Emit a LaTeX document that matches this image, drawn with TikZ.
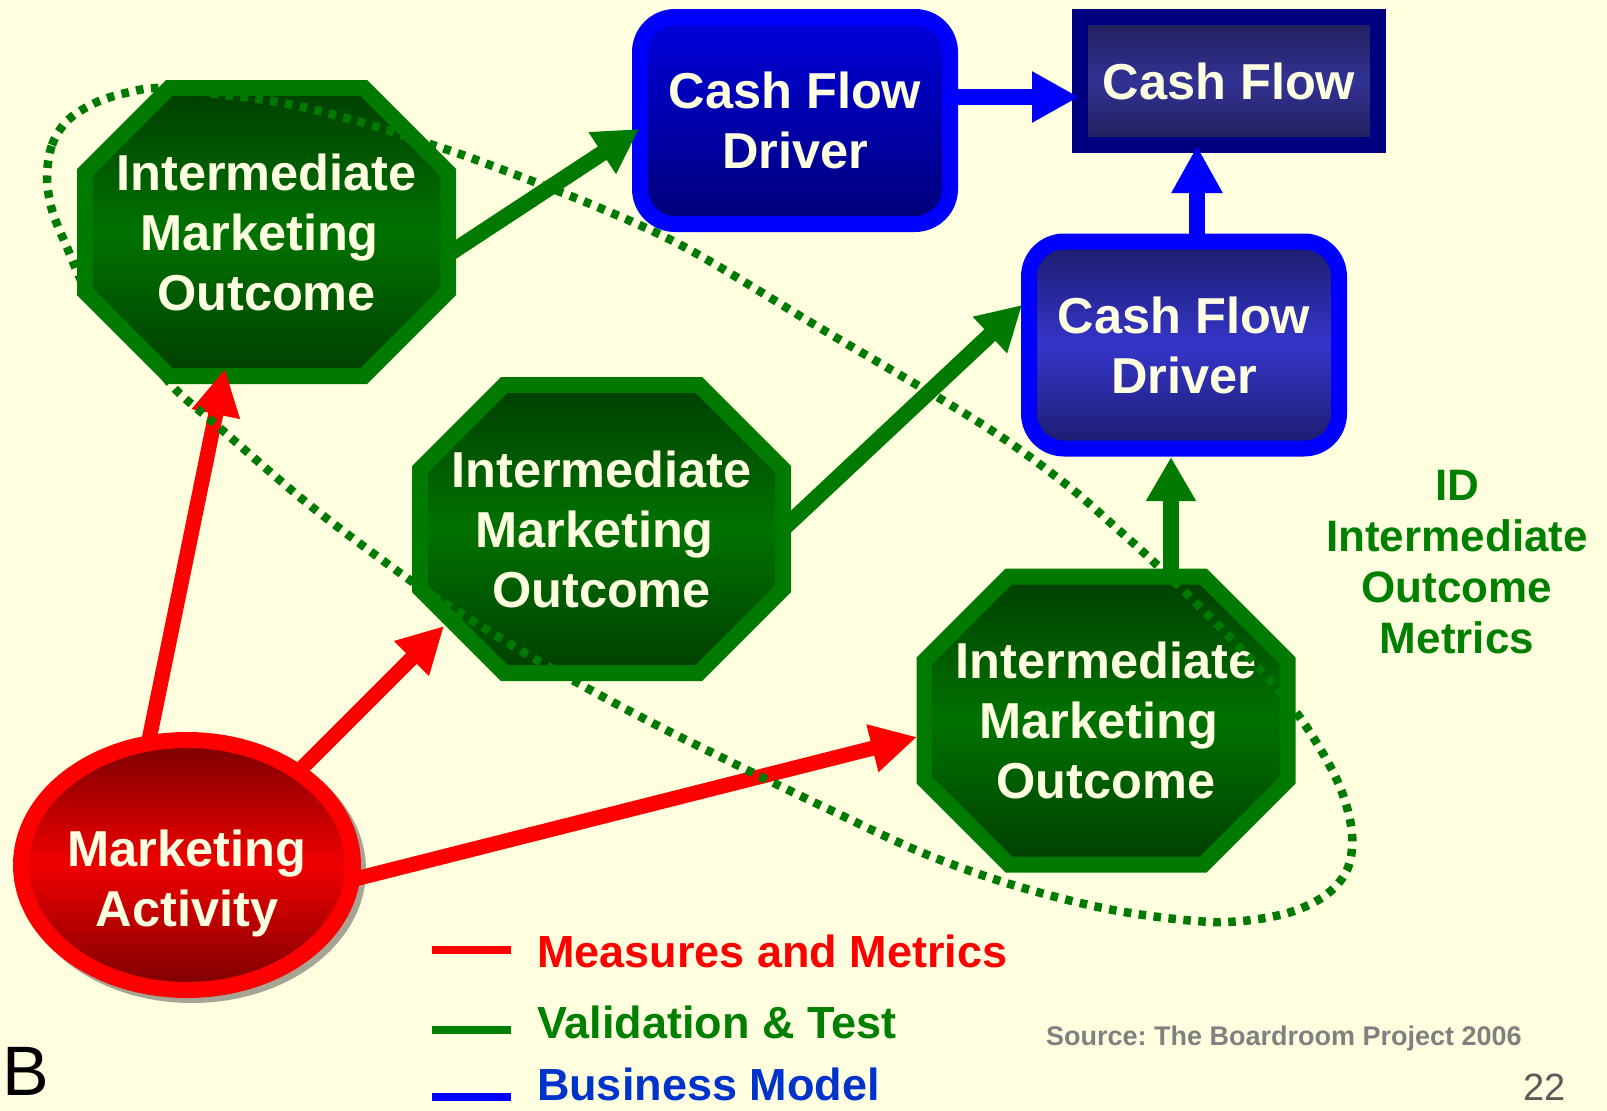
\documentclass[tikz,border=0pt]{standalone}
\usepackage{fontspec}
\setmainfont{Liberation Sans}
\usetikzlibrary{arrows.meta,calc,shapes.geometric}
\frenchspacing
\definecolor{bgcream}{RGB}{255,255,224}
\definecolor{txtcream}{RGB}{255,255,226}
\definecolor{gborder}{RGB}{0,122,0}
\definecolor{gdark}{RGB}{0,66,0}
\definecolor{gmid}{RGB}{0,114,0}
\definecolor{lgreen}{RGB}{0,128,0}
\definecolor{bbright}{RGB}{0,0,255}
\definecolor{bnavy}{RGB}{0,0,128}
\definecolor{cfdtop}{RGB}{0,0,222}
\definecolor{cfdbot}{RGB}{0,0,120}
\definecolor{cfdark}{RGB}{30,30,88}
\definecolor{cfmid}{RGB}{50,50,148}
\definecolor{cfdtwodark}{RGB}{28,28,108}
\definecolor{cfdtwomid}{RGB}{53,53,202}
\definecolor{mdark}{RGB}{122,0,0}
\definecolor{mbright}{RGB}{240,0,0}
\definecolor{shgray}{RGB}{165,165,150}
\definecolor{bizblue}{RGB}{0,51,204}
\definecolor{srcgray}{RGB}{128,128,128}
\definecolor{numgray}{RGB}{90,90,90}
\newcommand\myBigFont{\fontsize{50.5pt}{60pt}\selectfont\bfseries}
\newcommand\myLegFont{\fontsize{45pt}{50pt}\selectfont\bfseries}
\begin{document}
\begin{tikzpicture}[x=1pt,y=-1pt,
  octnode/.style={rectangle, minimum width=379pt, minimum height=304pt, inner sep=0pt, outer sep=0pt,
    align=center, text=txtcream, font=\myBigFont,
    path picture={
      \fill[gborder] ($(path picture bounding box.north west)+(89pt,0pt)$) -- ++(201pt,0pt) -- ++(89pt,-89pt)
        -- ++(0pt,-126pt) -- ++(-89pt,-89pt) -- ++(-201pt,0pt) -- ++(-89pt,89pt) -- ++(0pt,126pt) -- cycle;
      \shade[top color=gdark, bottom color=gdark, middle color=gmid]
        ($(path picture bounding box.north west)+(95.6pt,-16pt)$) -- ++(187.8pt,0pt) -- ++(79.6pt,-79.6pt)
        -- ++(0pt,-112.8pt) -- ++(-79.6pt,-79.6pt) -- ++(-187.8pt,0pt) -- ++(-79.6pt,79.6pt) -- ++(0pt,112.8pt) -- cycle;
    }},
  cfdbox/.style={rectangle, rounded corners=35pt, draw=bbright, line width=16pt, minimum width=310pt,
    minimum height=207pt, inner sep=0pt, align=center, text=txtcream, font=\myBigFont},
  cfbox/.style={rectangle, draw=bnavy, line width=16pt, minimum width=298pt, minimum height=128pt,
    inner sep=0pt, align=center, text=txtcream, font=\myBigFont, top color=cfdark, bottom color=cfdark, middle color=cfmid},
  redarrow/.style={draw=red, line width=15pt, -{Triangle[length=46pt,width=46pt]}},
  greenarrow/.style={draw=gborder, line width=16pt, -{Triangle[length=44pt,width=47pt]}},
  bluearrow/.style={draw=bbright, line width=16pt, -{Triangle[length=47pt,width=48pt]}},
  dotcurve/.style={draw=gborder, line width=8.5pt, dash pattern=on 7.5pt off 7.5pt},
  legline/.style={line width=8pt},
  plaintext/.style={inner sep=0pt, outer sep=0pt}
]
\useasboundingbox (0,0) rectangle (1607,1111);
\fill[bgcream] (0,0) rectangle (1607,1111);

% octagons
\node[octnode] (o1) at (266.5,232) {Intermediate\\Marketing\rule{14pt}{0pt}\\Outcome};
\node[octnode] (o2) at (601.5,529) {Intermediate\\Marketing\rule{14pt}{0pt}\\Outcome};
\node[octnode] (o3) at (1106,720.5) {Intermediate\\Marketing\rule{14pt}{0pt}\\Outcome};

% cash flow boxes
\node[cfdbox, top color=cfdtop, bottom color=cfdbot] (cfd1) at (795,120.5) {Cash Flow\\Driver};
\node[cfdbox, top color=cfdtwodark, bottom color=cfdtwodark, middle color=cfdtwomid] (cfd2) at (1184,345) {Cash Flow\\Driver};
\node[cfbox] (cf) at (1229,81) {Cash Flow};

% marketing activity
\fill[shgray] (192,870) ellipse [x radius=174pt, y radius=133pt];
\node[ellipse, draw=red, line width=16pt, minimum width=332pt, minimum height=250pt, inner sep=0pt,
  top color=mdark, bottom color=mdark, middle color=mbright] (ma) at (187,865) {};
\node[plaintext, align=center, text=txtcream, font=\myBigFont] (matext) at ($(ma.center)+(0,18)$) {Marketing\\Activity};

% arrows
\draw[redarrow] ($(ma.center)+(-38,-125)$) -- ($(o1.center)+(-41.5,137)$);
\draw[redarrow] ($(ma.center)+(113,-95)$) -- ($(o2.center)+(-157.5,97)$);
\draw[redarrow] ($(ma.center)+(168,14)$) -- ($(o3.center)+(-189,16.5)$);
\draw[greenarrow] ($(o1.center)+(181.5,22.5)$) -- ($(cfd1.center)+(-156,8.5)$);
\draw[greenarrow] ($(o2.center)+(181.5,0)$) -- ($(cfd2.center)+(-162,-40)$);
\draw[greenarrow] ($(o3.center)+(65,-145)$) -- ($(cfd2.center)+(-13,112)$);
\draw[bluearrow] ($(cfd1.center)+(155,-23.5)$) -- ($(cf.center)+(-150,16)$);
\draw[bluearrow] ($(cfd2.center)+(13,-105)$) -- ($(cf.center)+(-32,65)$);

% side text
\node[plaintext, align=center, text=lgreen, font=\fontsize{44pt}{51pt}\selectfont\bfseries] (idtext) at (1457,562)
  {ID\\Intermediate\\Outcome\\Metrics};

% legend
\coordinate (l1a) at (432,950); \coordinate (l1b) at (511,950);
\coordinate (l2a) at (432,1030); \coordinate (l2b) at (511,1030);
\coordinate (l3a) at (432,1097); \coordinate (l3b) at (511,1097);
\draw[legline, red] (l1a) -- (l1b);
\draw[legline, lgreen] (l2a) -- (l2b);
\draw[legline, bbright] (l3a) -- (l3b);
\node[plaintext, anchor=base west, text=red, font=\myLegFont] (leg1) at (537,967) {Measures and Metrics};
\node[plaintext, anchor=base west, text=lgreen, font=\myLegFont] (leg2) at (537,1038) {Validation \& Test};
\node[plaintext, anchor=base west, text=bizblue, font=\myLegFont] (leg3) at (537,1100) {Business Model};

\node[plaintext, anchor=base west, text=srcgray, font=\fontsize{27pt}{30pt}\selectfont\bfseries] (src) at (1046,1045)
  {Source: The Boardroom Project 2006};
\node[plaintext, anchor=base east, text=numgray, font=\fontsize{38pt}{40pt}\selectfont] (pg) at (1566,1100) {22};
\node[plaintext, anchor=base west, text=black, font=\fontsize{70pt}{76pt}\selectfont] (logo) at (2,1095) {B};

% dotted loop
\draw[dotcurve] plot[smooth cycle, tension=0.55] coordinates {
  (47,177) (52,145) (68,120) (97,102) (130,92) (160,88) (217,94) (283,103) (350,119) (433,145)
  (490,165) (600,208) (690,250) (820,328) (980,423) (1063,482) (1113,525) (1157,565) (1213,620)
  (1277,688) (1313,737) (1340,787) (1352,833) (1347,870) (1323,897) (1280,915) (1213,922) (1113,910)
  (1013,885) (923,853) (826,808) (737,765) (637,715) (537,660) (452,608) (400,573) (307,503)
  (214,423) (176,390) (150,358) (120,328) (88,293) (66,245) (52,210)};
\end{tikzpicture}
\end{document}
